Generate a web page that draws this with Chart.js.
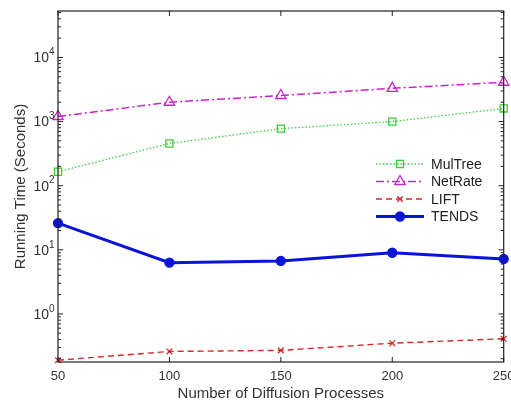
<!DOCTYPE html>
<html>
<head>
<meta charset="utf-8">
<script src="https://cdn.jsdelivr.net/npm/chart.js@4.4.1/dist/chart.umd.min.js"></script>
<style>
  html, body { margin: 0; padding: 0; background: #fff; }
  #wrap { width: 511px; height: 403px; position: relative; }
</style>
</head>
<body>
<div id="wrap"><canvas id="chart"></canvas></div>
<script>
// Running time vs. number of diffusion processes (log scale)
const processes = [50, 100, 150, 200, 250];
const mulTree   = [165, 455, 775, 1000, 1600];
const netRate   = [1200, 2000, 2550, 3300, 4100];
const lift      = [0.19, 0.26, 0.27, 0.35, 0.41];
const tends     = [26, 6.3, 6.7, 9.0, 7.2];

const yDecades  = [1, 10, 100, 1000, 10000];

const FONT = 'Liberation Sans, Arial, sans-serif';
const INK  = '#333';

const pts = ys => processes.map((x, i) => ({ x, y: ys[i] }));

function series(label, ys, color, dash, width, style, radius, fill) {
  return {
    label,
    data: pts(ys),
    borderColor: color,
    borderWidth: width,
    borderDash: dash,
    pointStyle: style,
    pointRadius: radius,
    pointBorderColor: color,
    pointBorderWidth: 1.3,
    pointBackgroundColor: fill ? color : 'rgba(0,0,0,0)',
    tension: 0,
    clip: false,
  };
}

// MATLAB-style box with inward ticks, 10^n labels and a line+marker legend
const frame = {
  id: 'frame',
  afterDraw(chart) {
    const { ctx, chartArea: a, scales: { x, y } } = chart;
    ctx.save();
    ctx.strokeStyle = '#222';
    ctx.lineWidth = 1.2;
    ctx.strokeRect(a.left, a.top, a.right - a.left, a.bottom - a.top);

    ctx.lineWidth = 1;
    ctx.beginPath();
    processes.forEach(v => {
      const px = x.getPixelForValue(v);
      ctx.moveTo(px, a.bottom); ctx.lineTo(px, a.bottom - 5);
      ctx.moveTo(px, a.top);    ctx.lineTo(px, a.top + 5);
    });
    for (let e = -1; e <= 4; e++) {
      for (let m = 1; m <= 9; m++) {
        const v = m * Math.pow(10, e);
        if (v < y.min || v > y.max) continue;
        const py = y.getPixelForValue(v);
        const len = m === 1 ? 5 : 3;
        ctx.moveTo(a.left, py);  ctx.lineTo(a.left + len, py);
        ctx.moveTo(a.right, py); ctx.lineTo(a.right - len, py);
      }
    }
    ctx.stroke();

    // y tick labels as 10 with a raised exponent
    ctx.fillStyle = INK;
    ctx.textBaseline = 'middle';
    y.ticks.forEach(t => {
      const py = y.getPixelForValue(t.value);
      const ex = String(Math.round(Math.log10(t.value)));
      ctx.font = '14px ' + FONT;
      ctx.textAlign = 'right';
      ctx.fillText('10', a.left - 9, py + 1);
      ctx.font = '10px ' + FONT;
      ctx.textAlign = 'left';
      ctx.fillText(ex, a.left - 9, py - 5);
    });

    // legend
    const lx = 376, ly = 164, row = 17.5;
    ctx.fillStyle = '#fff';
    ctx.fillRect(370, 152, 125, 74);
    chart.data.datasets.forEach((ds, i) => {
      const yy = ly + i * row;
      ctx.strokeStyle = ds.borderColor;
      ctx.lineWidth = ds.borderWidth;
      ctx.setLineDash(ds.borderDash);
      ctx.beginPath();
      ctx.moveTo(lx, yy); ctx.lineTo(lx + 48, yy);
      ctx.stroke();
      ctx.setLineDash([]);
      ctx.fillStyle = ds.pointBackgroundColor;
      ctx.strokeStyle = ds.pointBorderColor;
      ctx.lineWidth = ds.pointBorderWidth;
      Chart.helpers.drawPoint(ctx, {
        pointStyle: ds.pointStyle,
        radius: ds.pointRadius,
        borderWidth: ds.pointBorderWidth,
      }, lx + 24, yy);
      ctx.fillStyle = '#222';
      ctx.font = '14px ' + FONT;
      ctx.textAlign = 'left';
      ctx.textBaseline = 'middle';
      ctx.fillText(ds.label, lx + 55, yy + 1);
    });
    ctx.restore();
  }
};

new Chart(document.getElementById('chart'), {
  type: 'line',
  data: {
    datasets: [
      series('MulTree', mulTree, '#3ccc3c', [1.5, 2], 1.3, 'rect', 5, false),
      series('NetRate', netRate, '#cc22cc', [8, 3, 2, 3], 1.5, 'triangle', 6, false),
      series('LIFT', lift, '#d22b2b', [6, 4], 1.4, 'crossRot', 4, false),
      series('TENDS', tends, '#0a14d8', [], 3, 'circle', 4.5, true),
    ]
  },
  options: {
    responsive: true,
    maintainAspectRatio: false,
    animation: false,
    layout: { padding: { top: 11, right: 7, left: 0, bottom: 0 } },
    plugins: { legend: { display: false }, tooltip: { enabled: false } },
    scales: {
      x: {
        type: 'linear',
        min: 50, max: 250,
        afterBuildTicks: s => { s.ticks = processes.map(v => ({ value: v })); },
        afterFit: s => { s.height = 41; s.paddingLeft = 0; s.paddingRight = 0; },
        grid: { display: false, drawTicks: false },
        border: { display: false },
        ticks: { color: INK, font: { family: FONT, size: 13 }, padding: 7, maxRotation: 0 },
        title: { display: true, text: 'Number of Diffusion Processes', color: INK,
                 font: { family: FONT, size: 15 }, padding: { top: 0, bottom: 0 } },
      },
      y: {
        type: 'logarithmic',
        min: 0.178, max: 53000,
        afterBuildTicks: s => { s.ticks = yDecades.map(v => ({ value: v })); },
        afterFit: s => { s.width = 58; s.paddingTop = 0; s.paddingBottom = 0; },
        grid: { display: false, drawTicks: false },
        border: { display: false },
        ticks: { display: false },
        title: { display: true, text: 'Running Time (Seconds)', color: INK,
                 font: { family: FONT, size: 15 }, padding: { top: 12, bottom: 0 } },
      },
    }
  },
  plugins: [frame]
});
</script>
</body>
</html>
